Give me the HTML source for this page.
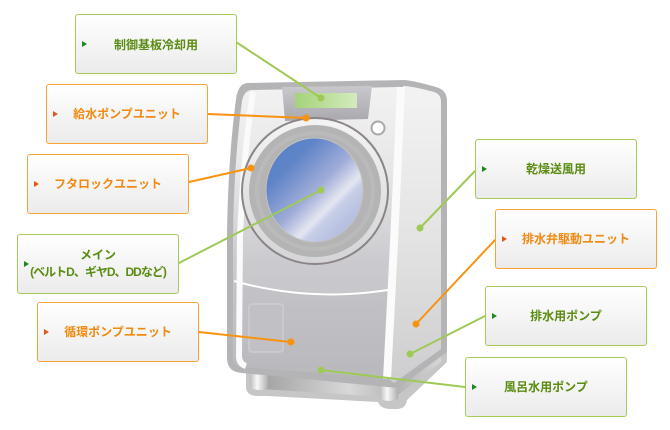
<!DOCTYPE html>
<html><head><meta charset="utf-8">
<style>
html,body{margin:0;padding:0;background:#fff;}
#wrap{position:relative;width:670px;height:430px;overflow:hidden;background:#fff;}
svg{position:absolute;left:0;top:0;}
.b{position:absolute;box-sizing:border-box;width:162px;height:60px;border:1px solid #a6cc58;border-radius:3px;
background:linear-gradient(#ffffff,#ebebeb);display:flex;align-items:center;justify-content:center;
font-family:"Liberation Sans","Noto Sans CJK JP",sans-serif;font-weight:bold;font-size:12px;color:#5b8c12;text-align:center;line-height:17px;}
.b.o{border-color:#f7a434;color:#f08a12;}
.b::before{content:"";position:absolute;left:6px;top:50%;margin-top:-3px;width:0;height:0;border-left:5px solid #1e8a1e;border-top:3px solid transparent;border-bottom:3px solid transparent;}
.b.o::before{border-left-color:#e2561a;}
</style></head><body>
<div id="wrap">
<svg width="670" height="430" viewBox="0 0 670 430">
<defs>
<linearGradient id="gFront" x1="0" y1="87" x2="0" y2="377" gradientUnits="userSpaceOnUse">
<stop offset="0" stop-color="#f2f2f2"/><stop offset="0.3" stop-color="#e6e6e8"/><stop offset="0.6" stop-color="#cbcbcf"/><stop offset="1" stop-color="#bdbdc1"/>
</linearGradient>
<linearGradient id="gSide" x1="0" y1="86" x2="0" y2="383" gradientUnits="userSpaceOnUse">
<stop offset="0" stop-color="#f3f3f3"/><stop offset="0.5" stop-color="#e4e4e4"/><stop offset="1" stop-color="#cdcdcf"/>
</linearGradient>
<linearGradient id="gLower" x1="0" y1="285" x2="0" y2="378" gradientUnits="userSpaceOnUse">
<stop offset="0" stop-color="#c3c3c7"/><stop offset="1" stop-color="#b9b9bd"/>
</linearGradient>
<linearGradient id="gPanel" x1="0" y1="86" x2="0" y2="120" gradientUnits="userSpaceOnUse">
<stop offset="0" stop-color="#c9c9cd"/><stop offset="1" stop-color="#a9a9ae"/>
</linearGradient>
<linearGradient id="gDisp" x1="295" y1="0" x2="357" y2="0" gradientUnits="userSpaceOnUse">
<stop offset="0" stop-color="#a6d27a"/><stop offset="1" stop-color="#d3ebbd"/>
</linearGradient>
<linearGradient id="gRing" x1="0" y1="118" x2="0" y2="264" gradientUnits="userSpaceOnUse">
<stop offset="0" stop-color="#f4f4f4"/><stop offset="1" stop-color="#d4d4d6"/>
</linearGradient>
<linearGradient id="gGlass" x1="270" y1="150" x2="355" y2="235" gradientUnits="userSpaceOnUse">
<stop offset="0" stop-color="#5a80c6"/><stop offset="0.2" stop-color="#5e84c8"/><stop offset="0.5" stop-color="#a0acd8"/><stop offset="0.68" stop-color="#e4e6f0"/><stop offset="0.74" stop-color="#c6cde6"/><stop offset="1" stop-color="#aab6dc"/>
</linearGradient>
<linearGradient id="gPlinth" x1="262" y1="0" x2="386" y2="0" gradientUnits="userSpaceOnUse">
<stop offset="0" stop-color="#a2a2a2"/><stop offset="0.7" stop-color="#d8d8d8"/><stop offset="1" stop-color="#bdbdbd"/>
</linearGradient>
<linearGradient id="gFoot" x1="0" y1="0" x2="1" y2="0">
<stop offset="0" stop-color="#bdbdbd"/><stop offset="0.4" stop-color="#f8f8f8"/><stop offset="1" stop-color="#afafaf"/>
</linearGradient>
<linearGradient id="gSideBase" x1="398" y1="0" x2="441" y2="0" gradientUnits="userSpaceOnUse">
<stop offset="0" stop-color="#b4b4b4"/><stop offset="1" stop-color="#d6d6d6"/>
</linearGradient>
</defs>

<!-- base shadow -->
<path d="M246,365 L246,388 Q247,396 258,396 L268,396 L378,402 Q381,409 390,409 L398,409 Q406,408 407,400 L447,362 L447,350 Z" fill="#c6c6c6"/>
<polygon points="262,368 386,377 386,397 262,389" fill="url(#gPlinth)"/>
<polygon points="396,384 441,351 441,362 398,395" fill="url(#gSideBase)"/>
<path d="M250,366 L268,367 L268,388 Q259,392 250,388 Z" fill="url(#gFoot)"/>
<path d="M380,376 L398,377 L398,399 Q389,403 380,399 Z" fill="url(#gFoot)"/>

<!-- body outline -->
<path d="M247,83 L404,80 Q411,80 436,87 Q447,90 447,101 L447,352 L398,388 L242,373 Q227,372 227,358 L227,235 Q228,160 236,99 Q238,84 247,83 Z" fill="#b4b4b6"/>
<!-- side panel -->
<path d="M403,86 Q412,86 434,92 Q441,94 441,102 L441,349 L394,383 L388,378 Q396,230 403,86 Z" fill="url(#gSide)"/>
<!-- front face -->
<path d="M251,90 L399,87 Q393,230 386,378 L243,367 Q233,366 233,356 L233,235 Q234,162 242,101 Q244,91 251,90 Z" fill="url(#gFront)"/>
<!-- lower panel -->
<path d="M234,281 Q312,303 394,289 L387,378 L243,367 Q234,366 234,356 Z" fill="url(#gLower)"/>
<path d="M234,281 Q312,303 394,289" fill="none" stroke="#ffffff" stroke-width="2"/>
<!-- stripe -->
<path d="M401,87 Q395,230 387,379" fill="none" stroke="#fbfbfb" stroke-width="8"/>
<!-- left bevel -->
<path d="M253,92 Q244,150 240,235 L239,356 Q239,364 246,366" fill="none" stroke="#fafafa" stroke-width="6"/>
<!-- filter door -->
<path d="M249,307 Q249,304 252,304 L280,304 Q283,304 283,307 L283,349 Q283,352 280,352 L252,352 Q249,352 249,349 Z" fill="#c1c1c5" stroke="#cdcdd1" stroke-width="1.5"/>
<!-- control panel -->
<path d="M282,87 L372,86 L368,119 L285,121 Z" fill="url(#gPanel)"/>
<rect x="295" y="93" width="62" height="15" fill="url(#gDisp)"/>
<circle cx="378" cy="128" r="6.5" fill="#ffffff" stroke="#a8a8a8" stroke-width="2"/>
<!-- door -->
<circle cx="315" cy="191" r="73" fill="url(#gRing)" stroke="#8b8488" stroke-width="2"/>
<circle cx="315" cy="191" r="66" fill="#b4b4b4"/>
<circle cx="315" cy="191" r="58" fill="none" stroke="#bababa" stroke-width="4"/>
<ellipse cx="314.5" cy="190" rx="48.5" ry="52" fill="url(#gGlass)" stroke="#c2c2c4" stroke-width="1"/>

<!-- connectors -->
<g stroke-width="2" fill="none" stroke-linecap="round">
<line x1="236" y1="42" x2="321" y2="98" stroke="#9fc955"/>
<line x1="179" y1="263" x2="321" y2="190" stroke="#9fc955"/>
<line x1="475" y1="171" x2="420" y2="228" stroke="#9fc955"/>
<line x1="485" y1="316" x2="410" y2="354" stroke="#9fc955"/>
<line x1="465" y1="387" x2="321" y2="370" stroke="#9fc955"/>
<line x1="208" y1="114" x2="306" y2="118" stroke="#f7930f"/>
<line x1="189" y1="182" x2="251" y2="168" stroke="#f7930f"/>
<line x1="199" y1="332" x2="291" y2="342" stroke="#f7930f"/>
<line x1="495" y1="240" x2="416" y2="324" stroke="#f7930f"/>
</g>
<g fill="#9fc955">
<circle cx="321" cy="98" r="3.5"/><circle cx="321" cy="190" r="3.5"/><circle cx="420" cy="228" r="3.5"/><circle cx="410" cy="354" r="3.5"/><circle cx="321" cy="370" r="3.5"/>
</g>
<g fill="#f7930f">
<circle cx="306" cy="118" r="3.5"/><circle cx="251" cy="168" r="3.5"/><circle cx="291" cy="342" r="3.5"/><circle cx="416" cy="324" r="3.5"/>
</g>
</svg>

<div class="b" style="left:75px;top:14px;padding-top:3px;">制御基板冷却用</div>
<div class="b o" style="left:46px;top:84px;">給水ポンプユニット</div>
<div class="b o" style="left:27px;top:154px;">フタロックユニット</div>
<div class="b" style="left:17px;top:234px;"><div>メイン<br><span style="letter-spacing:-1px;">(ベルトD、ギヤD、DDなど)</span></div></div>
<div class="b o" style="left:37px;top:302px;">循環ポンプユニット</div>
<div class="b" style="left:475px;top:139px;">乾燥送風用</div>
<div class="b o" style="left:495px;top:209px;">排水弁駆動ユニット</div>
<div class="b" style="left:485px;top:286px;">排水用ポンプ</div>
<div class="b" style="left:465px;top:357px;">風呂水用ポンプ</div>
</div>
</body></html>
